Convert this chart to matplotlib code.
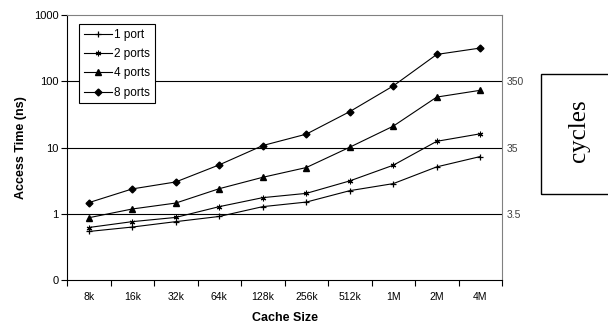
import matplotlib
matplotlib.use("Agg")
import matplotlib.pyplot as plt
from matplotlib.patches import Rectangle

categories = ["8k", "16k", "32k", "64k", "128k", "256k", "512k", "1M", "2M", "4M"]
port1 = [0.54, 0.63, 0.76, 0.91, 1.28, 1.50, 2.23, 2.85, 5.1, 7.3]
port2 = [0.62, 0.76, 0.88, 1.28, 1.75, 2.03, 3.13, 5.4, 12.4, 16.1]
port4 = [0.87, 1.18, 1.45, 2.39, 3.55, 4.98, 10.1, 21.0, 57.7, 73.0]
port8 = [1.47, 2.37, 3.02, 5.47, 10.7, 15.9, 34.8, 85.0, 254.0, 317.0]
left_ticks = [0.1, 1, 10, 100, 1000]
left_labels = ["0", "1", "10", "100", "1000"]
right_ticks = [1, 10, 100]
right_labels = ["3.5", "35", "350"]

plt.rcParams['font.family'] = ['Liberation Sans', 'DejaVu Sans']

fig = plt.figure(figsize=(6.08, 3.26), dpi=100)
ax = fig.add_axes([67/608, 1-280/326, 435/608, 265/326])
x = list(range(len(categories)))

for yv in right_ticks:
    ax.axhline(yv, color='black', lw=0.8, zorder=1)

series = [(port1, "1 port", '+', 4.5, 0.9), (port2, "2 ports", (6, 2, 0), 4, 0.8),
          (port4, "4 ports", '^', 5, 1.0), (port8, "8 ports", 'D', 3.5, 1.0)]
for vals, lab, mk, ms, mew in series:
    ax.plot(x, vals, color='black', lw=0.8, marker=mk, ms=ms, mew=mew,
            mfc='black', mec='black', label=lab, zorder=3)

ax.set_yscale('log')
ax.set_ylim(0.1, 1000)
ax.set_xlim(-0.5, len(categories) - 0.5)
ax.yaxis.set_major_locator(matplotlib.ticker.FixedLocator(left_ticks))
ax.yaxis.set_major_formatter(matplotlib.ticker.FixedFormatter(left_labels))
ax.yaxis.set_minor_locator(matplotlib.ticker.NullLocator())
ax.tick_params(axis='y', which='major', direction='out', length=4, width=0.8,
               labelsize=8, colors='black', pad=2)
ax.set_xticks(x)
ax.set_xticklabels(categories)
ax.set_xticks([i - 0.5 for i in range(len(categories) + 1)], minor=True)
ax.tick_params(axis='x', which='major', length=0, labelsize=7.5, pad=9)
ax.tick_params(axis='x', which='minor', direction='out', length=4, width=0.8)

for s in ['left', 'bottom']:
    ax.spines[s].set_color('black')
    ax.spines[s].set_linewidth(0.8)
for s in ['top', 'right']:
    ax.spines[s].set_color('#808080')
    ax.spines[s].set_linewidth(0.8)

ax.set_ylabel("Access Time (ns)", fontsize=9, fontweight='bold', labelpad=5)
ax.set_xlabel("Cache Size", fontsize=9, fontweight='bold', labelpad=7)

ax2 = ax.twinx()
ax2.set_yscale('log')
ax2.set_ylim(0.1, 1000)
ax2.yaxis.set_major_locator(matplotlib.ticker.FixedLocator(right_ticks))
ax2.yaxis.set_major_formatter(matplotlib.ticker.FixedFormatter(right_labels))
ax2.yaxis.set_minor_locator(matplotlib.ticker.NullLocator())
ax2.tick_params(axis='y', length=0, labelsize=7.5, colors='#404040', pad=3)
for s in ax2.spines.values():
    s.set_visible(False)

leg = ax.legend(loc='upper left', bbox_to_anchor=(12/435, 1 - 9/265), fontsize=8.5,
                frameon=True, fancybox=False, edgecolor='black', framealpha=1,
                handlelength=2.4, handletextpad=0.15, borderpad=0.4,
                labelspacing=0.62, borderaxespad=0)
leg.get_frame().set_linewidth(0.8)
leg.set_zorder(5)

fig.patches.append(Rectangle((541/608, 1-194/326), 80/608, 120/326,
                             transform=fig.transFigure, fill=False,
                             edgecolor='black', lw=1.0))
fig.text(579/608, 1-131/326, "cycles", rotation=90, ha='center', va='center',
         fontsize=18, family=['Liberation Serif', 'DejaVu Serif'])

fig.savefig("out.png", dpi=100)
